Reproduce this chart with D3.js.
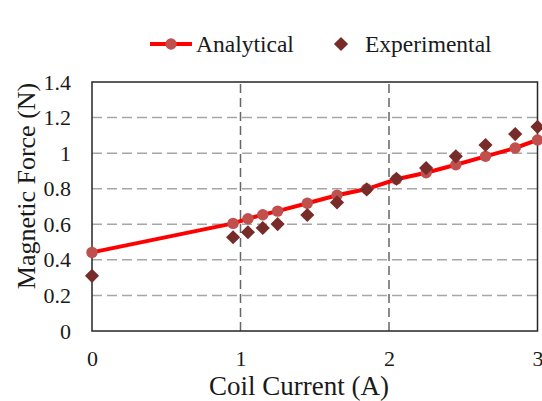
<!DOCTYPE html>
<meta charset="utf-8">
<style>
body { margin: 0; background: #fff; }
</style>
<body>
<div id="chart"></div>
<script src="https://cdn.jsdelivr.net/npm/d3@7"></script>
<script>
// coil current (A)
var current = [0, 0.95, 1.05, 1.15, 1.25, 1.45, 1.65, 1.85, 2.05, 2.25, 2.45, 2.65, 2.85, 3.0];
var analytical = [0.442, 0.605, 0.631, 0.654, 0.674, 0.718, 0.763, 0.798, 0.853, 0.89, 0.935, 0.982, 1.029, 1.074];
var experimental = [0.31, 0.527, 0.555, 0.579, 0.601, 0.652, 0.723, 0.796, 0.856, 0.916, 0.982, 1.046, 1.107, 1.148];
var xTicks = [0, 1, 2, 3];
var yTicks = [0, 0.2, 0.4, 0.6, 0.8, 1, 1.2, 1.4];

var W = 542, H = 401;
var m = {top: 82, right: 4, bottom: 70, left: 92};
var serif = '"Liberation Serif", "Times New Roman", "DejaVu Serif", serif';

var svg = d3.select("#chart").append("svg")
  .attr("width", W).attr("height", H);

var x = d3.scaleLinear().domain([0, 3]).range([m.left, W - m.right - 0.5]);
var y = d3.scaleLinear().domain([0, 1.4]).range([H - m.bottom, m.top]);

// horizontal grid
svg.append("g").selectAll("line")
  .data(yTicks.filter(d => d > 0 && d < 1.4))
  .enter().append("line")
  .attr("x1", x(0)).attr("x2", x(3))
  .attr("y1", d => y(d)).attr("y2", d => y(d))
  .attr("stroke", "#a6a6a6").attr("stroke-width", 1.5)
  .attr("stroke-dasharray", "10,5");

// vertical grid
svg.append("g").selectAll("line")
  .data(xTicks.filter(d => d > 0 && d < 3))
  .enter().append("line")
  .attr("x1", d => x(d)).attr("x2", d => x(d))
  .attr("y1", y(0)).attr("y2", y(1.4))
  .attr("stroke", "#666").attr("stroke-width", 1.5)
  .attr("stroke-dasharray", "9,5");

// plot border
svg.append("rect")
  .attr("x", x(0)).attr("y", y(1.4))
  .attr("width", x(3) - x(0)).attr("height", y(0) - y(1.4))
  .attr("fill", "none").attr("stroke", "#262626").attr("stroke-width", 1.5);

// axes (labels only)
var xAxis = svg.append("g")
  .attr("transform", "translate(0," + (y(0) + 16) + ")")
  .call(d3.axisBottom(x).tickValues(xTicks).tickSize(0).tickFormat(d3.format("d")));
xAxis.select(".domain").remove();
xAxis.selectAll("text")
  .style("font-family", serif).style("font-size", "22px").style("fill", "#1a1a1a");

var yAxis = svg.append("g")
  .attr("transform", "translate(" + (x(0) - 21) + ",0)")
  .call(d3.axisLeft(y).tickValues(yTicks).tickSize(0).tickFormat(d => d3.format("")(d)));
yAxis.select(".domain").remove();
yAxis.selectAll("text").attr("x", 0)
  .style("font-family", serif).style("font-size", "22px").style("fill", "#1a1a1a");

svg.append("text")
  .attr("x", 299).attr("y", 395)
  .attr("text-anchor", "middle")
  .style("font-family", serif).style("font-size", "27px").style("fill", "#1a1a1a")
  .text("Coil Current (A)");

svg.append("text")
  .attr("transform", "translate(35," + 186 + ") rotate(-90)")
  .attr("text-anchor", "middle")
  .style("font-family", serif).style("font-size", "26px").style("fill", "#1a1a1a")
  .text("Magnetic Force (N)");

var pts = current.map((c, i) => ({c: c, a: analytical[i], e: experimental[i]}));

// analytical line
svg.append("path")
  .datum(pts)
  .attr("fill", "none").attr("stroke", "#ff0000").attr("stroke-width", 4)
  .attr("d", d3.line().x(d => x(d.c)).y(d => y(d.a)));

svg.append("g").selectAll("circle")
  .data(pts).enter().append("circle")
  .attr("cx", d => x(d.c)).attr("cy", d => y(d.a))
  .attr("r", 5.7).attr("fill", "#c0504d");

var diamond = d3.symbol().type(d3.symbolSquare).size(100);
svg.append("g").selectAll("path")
  .data(pts).enter().append("path")
  .attr("d", diamond)
  .attr("transform", d => "translate(" + x(d.c) + "," + y(d.e) + ") rotate(45)")
  .attr("fill", "#772c2a");

// legend
var lg = svg.append("g");
lg.append("line").attr("x1", 150).attr("x2", 192).attr("y1", 44).attr("y2", 44)
  .attr("stroke", "#ff0000").attr("stroke-width", 4);
lg.append("circle").attr("cx", 171).attr("cy", 44).attr("r", 5.7).attr("fill", "#c0504d");
lg.append("text").attr("x", 196).attr("y", 52)
  .style("font-family", serif).style("font-size", "23.5px").style("fill", "#1a1a1a")
  .text("Analytical");
lg.append("path").attr("d", diamond)
  .attr("transform", "translate(341,44) rotate(45)").attr("fill", "#772c2a");
lg.append("text").attr("x", 365).attr("y", 52)
  .style("font-family", serif).style("font-size", "23.5px").style("fill", "#1a1a1a")
  .text("Experimental");
</script>
</body>
